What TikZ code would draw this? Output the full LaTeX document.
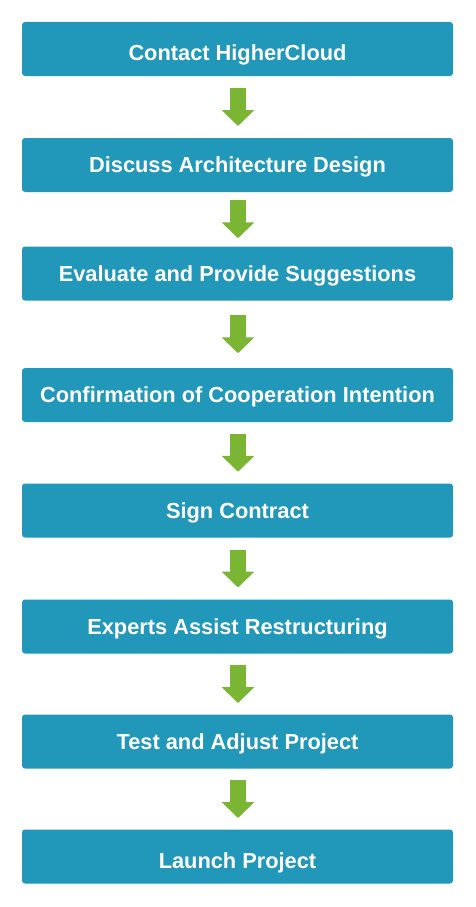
\documentclass[tikz,border=0pt]{standalone}
\usepackage{fontspec}
\setmainfont{Liberation Sans}
\usetikzlibrary{arrows.meta,calc}
\definecolor{stepblue}{RGB}{33,151,185}
\definecolor{arrowgreen}{RGB}{122,181,52}
\begin{document}
\begin{tikzpicture}[x=1pt,y=-1pt]
  \tikzset{stage/.style={fill=stepblue,rounded corners=3pt,minimum width=431pt,minimum height=54pt,inner sep=0pt,text height=15.8pt,text depth=0pt,text=white,font=\fontsize{21.8}{26}\selectfont\bfseries},
    low stage/.style={stage,text height=23.8pt},
    flow/.style={draw=arrowgreen,line width=16pt,-{Triangle[width=32pt,length=16pt]}}}
  \useasboundingbox (0,0) rectangle (476,907);

  \node [low stage] (S1) at (237.5,49) {Contact HigherCloud};
  \node [stage] (S2) at (237.5,165) {Discuss Architecture Design};
  \node [stage] (S3) at (237.5,273.5) {Evaluate and Provide Suggestions};
  \node [stage] (S4) at (237.5,395) {Confirmation of Cooperation Intention};
  \node [stage] (S5) at (237.5,510.5) {Sign Contract};
  \node [stage] (S6) at (237.5,626.5) {Experts Assist Restructuring};
  \node [stage] (S7) at (237.5,741.5) {Test and Adjust Project};
  \node [low stage] (S8) at (237.5,856.5) {Launch Project};

  \foreach \a/\b in {S1/S2,S2/S3,S3/S4,S4/S5,S5/S6,S6/S7,S7/S8}
    \draw [flow] ($(\a.south)!.5!(\b.north)+(0.5,-19)$) -- ($(\a.south)!.5!(\b.north)+(0.5,19)$);
\end{tikzpicture}
\end{document}
